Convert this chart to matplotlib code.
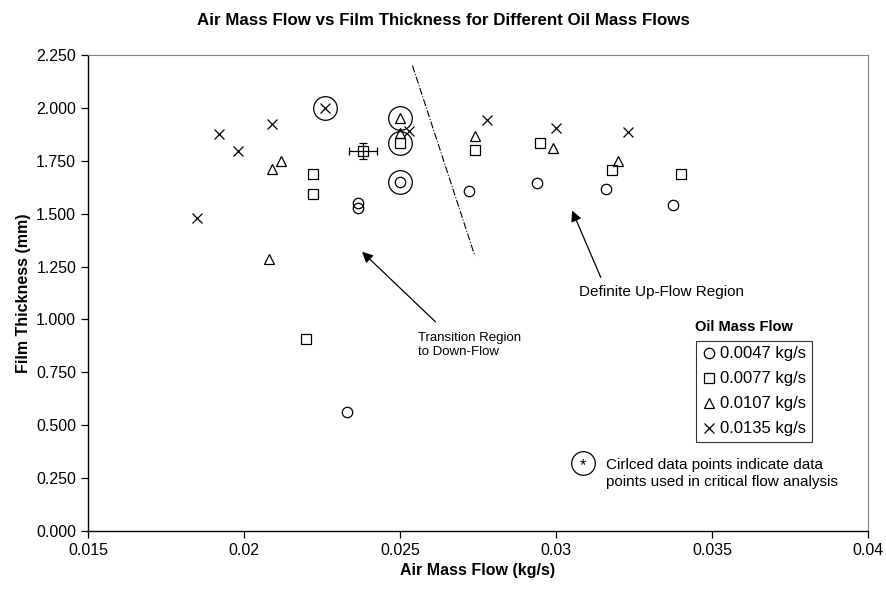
import numpy as np
import matplotlib.pyplot as plt
from matplotlib.lines import Line2D

plt.rcParams['font.family'] = ['Liberation Sans', 'DejaVu Sans']
plt.rcParams['font.size'] = 11.5

# oil mass flow 0.0047 kg/s (circles)
air_0047 = [0.0233, 0.02365, 0.02365, 0.0250, 0.0272, 0.0294, 0.0316, 0.03375]
film_0047 = [0.563, 1.551, 1.527, 1.650, 1.608, 1.645, 1.617, 1.541]

# oil mass flow 0.0077 kg/s (squares)
air_0077 = [0.0220, 0.0222, 0.0222, 0.0238, 0.0250, 0.0274, 0.0295, 0.0318, 0.0340]
film_0077 = [0.910, 1.593, 1.688, 1.797, 1.835, 1.801, 1.835, 1.707, 1.688]

# oil mass flow 0.0107 kg/s (triangles)
air_0107 = [0.0208, 0.0209, 0.0212, 0.0250, 0.0250, 0.0274, 0.0299, 0.0320]
film_0107 = [1.286, 1.712, 1.749, 1.880, 1.950, 1.865, 1.811, 1.749]

# oil mass flow 0.0135 kg/s (crosses)
air_0135 = [0.0185, 0.0192, 0.0198, 0.0209, 0.0226, 0.0253, 0.0278, 0.0300, 0.0323]
film_0135 = [1.480, 1.875, 1.797, 1.925, 2.000, 1.890, 1.945, 1.905, 1.885]

# points used in critical flow analysis
circled_air = [0.0226, 0.0250, 0.0250, 0.0250]
circled_film = [2.000, 1.950, 1.835, 1.650]

# error bar point
err_air, err_film = 0.0238, 1.797
err_x, err_y = 0.00045, 0.037

# transition line
trans_air = [0.0254, 0.0274]
trans_film = [2.20, 1.30]

series = [
    (air_0047, film_0047, 'o', '0.0047 kg/s'),
    (air_0077, film_0077, 's', '0.0077 kg/s'),
    (air_0107, film_0107, '^', '0.0107 kg/s'),
    (air_0135, film_0135, 'x', '0.0135 kg/s'),
]

fig, ax = plt.subplots(figsize=(8.86, 5.94), dpi=100)
fig.subplots_adjust(left=0.0993, right=0.9797, top=0.9074, bottom=0.106)

handles = []
for xs, ys, m, lab in series:
    ax.plot(xs, ys, linestyle='none', marker=m, markersize=7.5 if m != 's' else 7,
            markerfacecolor='none', markeredgecolor='black', markeredgewidth=0.9,
            color='black')
    handles.append(Line2D([], [], linestyle='none', marker=m,
                          markersize=7.5 if m != 's' else 7,
                          markerfacecolor='none', markeredgecolor='black',
                          markeredgewidth=0.9, label=lab))

ax.errorbar([err_air], [err_film], xerr=[err_x], yerr=[err_y], fmt='none',
            ecolor='black', elinewidth=0.9, capsize=3, capthick=0.9)

ax.plot(circled_air, circled_film, linestyle='none', marker='o', markersize=17,
        markerfacecolor='none', markeredgecolor='black', markeredgewidth=0.9)

ax.plot(trans_air, trans_film, color='black', linestyle='-.', linewidth=0.8)

arrow = dict(arrowstyle='-|>', color='black', lw=0.9, mutation_scale=16)
ax.annotate('', xy=(0.02372, 1.329), xytext=(0.0262, 0.98), arrowprops=arrow)
ax.text(0.02558, 0.88, 'Transition Region\nto Down-Flow', fontsize=9.5,
        ha='left', va='center', linespacing=1.25)
ax.annotate('', xy=(0.03048, 1.527), xytext=(0.03147, 1.187), arrowprops=arrow)
ax.text(0.03075, 1.13, 'Definite Up-Flow Region', fontsize=11, ha='left', va='center')

# circled note
ax.plot([0.03087], [0.322], linestyle='none', marker='o', markersize=17,
        markerfacecolor='none', markeredgecolor='black', markeredgewidth=0.9)
ax.text(0.03087, 0.31, '*', ha='center', va='center', fontsize=12)
ax.text(0.0316, 0.272, 'Cirlced data points indicate data\npoints used in critical flow analysis',
        fontsize=11, ha='left', va='center', linespacing=1.25)

leg = ax.legend(handles=handles, loc='upper left', bbox_to_anchor=(0.78, 0.40),
                frameon=True, fancybox=False, handlelength=0.8, handletextpad=0.25,
                borderpad=0.35, labelspacing=0.6, fontsize=12, borderaxespad=0)
leg.get_frame().set_edgecolor('black')
leg.get_frame().set_linewidth(0.8)
ax.text(0.841, 0.429, 'Oil Mass Flow', transform=ax.transAxes, ha='center',
        va='center', fontsize=10.5, fontweight='bold')

ax.set_xlim(0.015, 0.04)
ax.set_ylim(0, 2.25)
ax.set_xticks([0.015, 0.02, 0.025, 0.03, 0.035, 0.04])
ax.set_xticklabels(['0.015', '0.02', '0.025', '0.03', '0.035', '0.04'])
ax.set_yticks(np.arange(0, 2.26, 0.25))
ax.set_yticklabels([f'{v:.3f}' for v in np.arange(0, 2.26, 0.25)])
ax.tick_params(direction='out', length=5, width=0.9, labelsize=11.5)
ax.spines['top'].set_color('#808080')
ax.spines['right'].set_color('#808080')
for s in ['left', 'bottom']:
    ax.spines[s].set_linewidth(1.0)

ax.set_xlabel('Air Mass Flow (kg/s)', fontweight='bold', fontsize=11.5)
ax.set_ylabel('Film Thickness (mm)', fontweight='bold', fontsize=11.5)
fig.suptitle('Air Mass Flow vs Film Thickness for Different Oil Mass Flows',
             fontweight='bold', fontsize=12.2, y=0.978)

plt.savefig('out.png', dpi=100)
